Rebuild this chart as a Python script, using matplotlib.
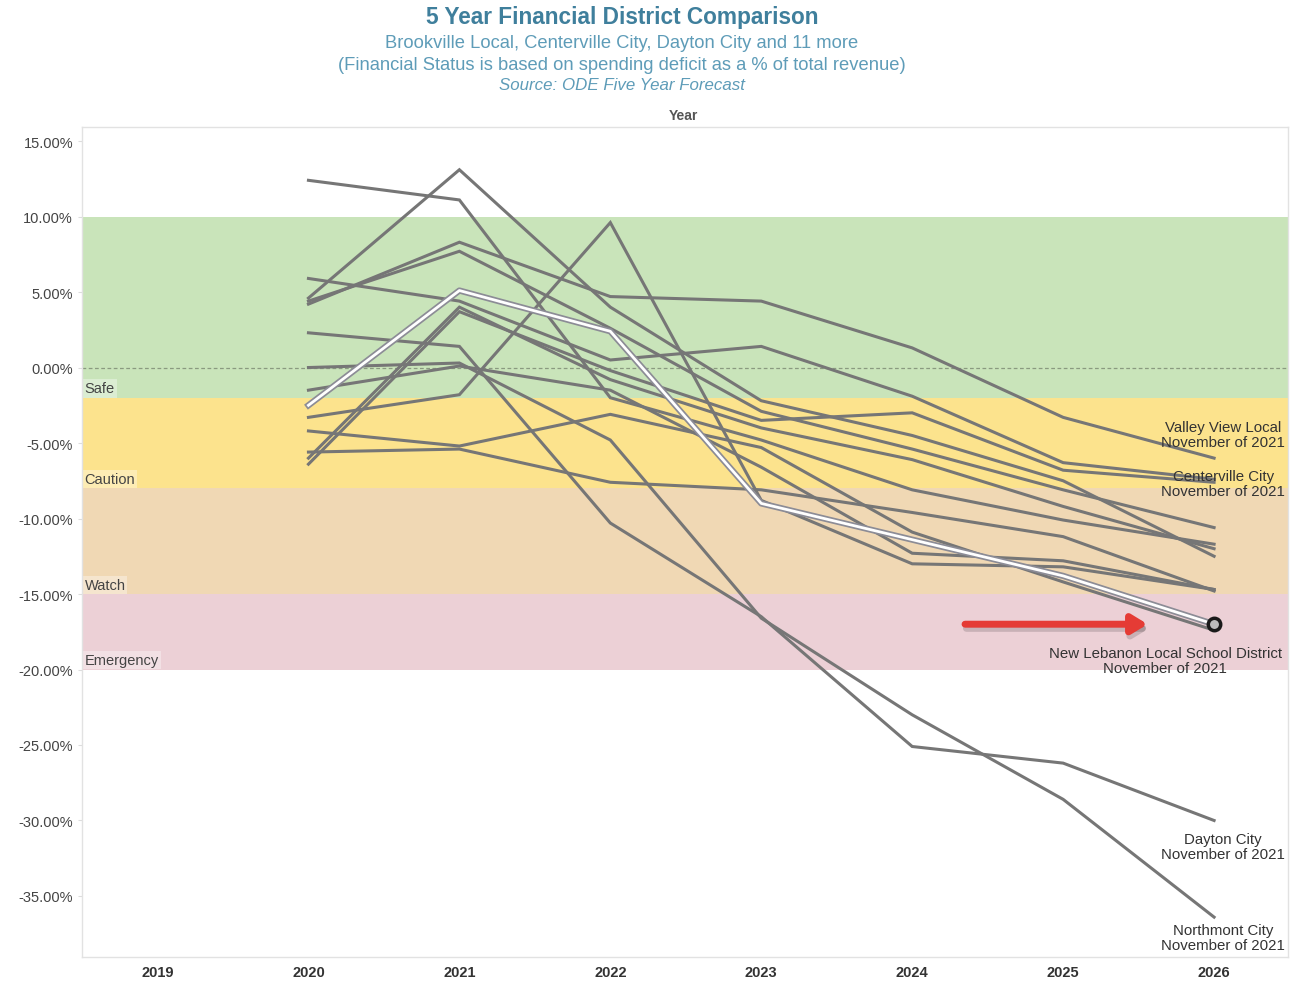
import matplotlib.pyplot as plt
import matplotlib.patheffects as pe

# x axis categories (2019 has no data, it is just a slot on the axis)
years = [2019, 2020, 2021, 2022, 2023, 2024, 2025, 2026]
forecast_years = [2020, 2021, 2022, 2023, 2024, 2025, 2026]

# spending deficit as % of total revenue
valley_view = [4.2, 8.3, 4.7, 4.4, 1.3, -3.3, -6.0]
centerville = [5.9, 4.4, 0.5, 1.4, -1.9, -6.3, -7.4]
brookville = [4.6, 13.1, 4.0, -2.2, -4.5, -7.5, -12.5]
district_04 = [4.4, 7.7, 2.6, -2.9, -5.4, -8.1, -10.6]
district_05 = [12.4, 11.1, -2.0, -4.8, -8.1, -10.1, -11.7]
district_06 = [-6.4, 3.7, -0.2, -3.5, -3.0, -6.8, -7.6]
district_07 = [-6.0, 4.0, -0.8, -4.0, -6.1, -9.2, -12.0]
district_08 = [-1.5, 0.1, -1.5, -6.6, -12.3, -12.8, -14.7]
district_09 = [-3.3, -1.8, 9.6, -8.8, -13.0, -13.2, -14.7]
district_10 = [-4.2, -5.2, -3.1, -5.3, -10.9, -14.2, -17.4]
district_11 = [-5.6, -5.4, -7.6, -8.1, -9.6, -11.2, -14.8]
dayton = [2.3, 1.4, -10.3, -16.5, -25.1, -26.2, -30.0]
northmont = [0.0, 0.3, -4.8, -16.6, -23.0, -28.6, -36.4]
new_lebanon = [-2.5, 5.1, 2.4, -9.0, -11.4, -13.8, -17.0]

grey_lines = [valley_view, centerville, brookville, district_04, district_05,
              district_06, district_07, district_08, district_09, district_10,
              district_11, dayton, northmont]

# financial status bands: (name, top, bottom, colour)
bands = [("Safe", 10, -2, "#c9e4ba"),
         ("Caution", -2, -8, "#fce38d"),
         ("Watch", -8, -15, "#f0d8b4"),
         ("Emergency", -15, -20, "#ecd0d6")]

y_ticks = [15, 10, 5, 0, -5, -10, -15, -20, -25, -30, -35]

plt.rcParams['font.family'] = ['Liberation Sans', 'DejaVu Sans']

fig = plt.figure(figsize=(12.94, 9.87), dpi=100)
ax = fig.add_axes([0.0634, 0.0294, 0.932, 0.8409])

for name, top, bottom, col in bands:
    ax.axhspan(bottom, top, color=col, lw=0, zorder=0)
    ax.text(0.002, bottom + 0.15, name, transform=ax.get_yaxis_transform(),
            fontsize=10.5, color="#444444", va="bottom", ha="left", zorder=1,
            bbox=dict(facecolor="white", alpha=0.35, edgecolor="none", pad=1.5))

ax.axhline(0, color="#8a9a80", lw=0.9, ls=(0, (3, 2)), zorder=1)

for vals in grey_lines:
    ax.plot(forecast_years, vals, color="#767676", lw=2.2, zorder=3,
            solid_joinstyle="miter")

# highlighted district
ax.plot(forecast_years, new_lebanon, color="white", lw=2.0, zorder=4,
        path_effects=[pe.Stroke(linewidth=4.5, foreground="#8c8c96"), pe.Normal()])
ax.scatter(forecast_years[-1], new_lebanon[-1], s=80, facecolor="#bbbbbb",
           edgecolor="#1a1a1a", linewidths=2.5, zorder=5)

# red arrow pointing at New Lebanon
ax.annotate("", xy=(forecast_years[-1] - 0.44, new_lebanon[-1]),
            xytext=(forecast_years[-1] - 1.65, new_lebanon[-1]),
            arrowprops=dict(arrowstyle="-|>,head_length=0.9,head_width=0.55",
                            lw=5, color="#e53b35", shrinkA=0, shrinkB=0,
                            path_effects=[pe.SimpleLineShadow(offset=(1, -3), alpha=0.15),
                                          pe.Normal()]),
            zorder=6)

# end labels
end_labels = [("Valley View Local", valley_view, (9, 24)),
              ("Centerville City", centerville, (9, -4)),
              ("New Lebanon Local School District", new_lebanon, (-49, -36)),
              ("Dayton City", dayton, (9, -26)),
              ("Northmont City", northmont, (9, -20))]
for name, vals, off in end_labels:
    ax.annotate(name + "\nNovember of 2021", xy=(forecast_years[-1], vals[-1]),
                xytext=off, textcoords="offset pixels", ha="center", va="center",
                fontsize=10.8, color="#333333", linespacing=1.1, zorder=7)

ax.set_xlim(2018.5, 2026.49)
ax.set_ylim(-39.04, 15.93)
ax.set_xticks(years)
ax.set_xticklabels([str(y) for y in years], fontsize=10.5, fontweight="bold", color="#333333")
ax.set_yticks(y_ticks)
ax.set_yticklabels(["%.2f%%" % v for v in y_ticks], fontsize=10.5, color="#444444")
ax.tick_params(axis="both", length=3, color="#dddddd")
ax.tick_params(axis="x", length=0, pad=6)
for s in ax.spines.values():
    s.set_color("#e2e2e2")
    s.set_linewidth(1)

# titles
fig.text(0.4807, 0.9818, "5 Year Financial District Comparison", ha="center", va="center",
         fontsize=16.3, fontweight="bold", color="#3f7f9c")
fig.text(0.4807, 0.9564, "Brookville Local, Centerville City, Dayton City and 11 more",
         ha="center", va="center", fontsize=13.2, color="#5e9cb8")
fig.text(0.4807, 0.9341, "(Financial Status is based on spending deficit as a % of total revenue)",
         ha="center", va="center", fontsize=13.2, color="#5e9cb8")
fig.text(0.4807, 0.9129, "Source: ODE Five Year Forecast", ha="center", va="center",
         fontsize=12.2, style="italic", color="#5e9cb8")
fig.text(0.528, 0.8825, "Year", ha="center", va="center", fontsize=10,
         fontweight="bold", color="#555555")

fig.savefig("out.png", dpi=100)
